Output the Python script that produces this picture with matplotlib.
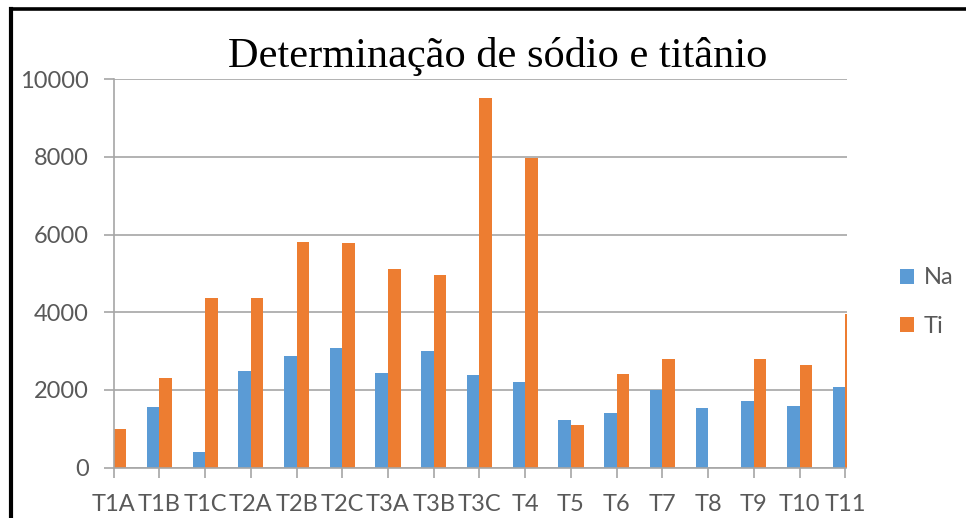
import numpy as np
import matplotlib
matplotlib.use("Agg")
import matplotlib.pyplot as plt
from matplotlib.lines import Line2D

# values
categories = ["T1A", "T1B", "T1C", "T2A", "T2B", "T2C", "T3A", "T3B", "T3C",
              "T4", "T5", "T6", "T7", "T8", "T9", "T10", "T11"]
na = [0, 1550, 400, 2480, 2875, 3080, 2445, 3005, 2380,
      2215, 1220, 1415, 2005, 1545, 1715, 1590, 2085]
ti = [990, 2310, 4360, 4360, 5820, 5775, 5125, 4950, 9510,
      7965, 1090, 2410, 2805, 0, 2805, 2645, 3960]
yticks = [0, 2000, 4000, 6000, 8000, 10000]

NA_C, TI_C = "#5B9BD5", "#ED7D31"
TXT = "#595959"
GRID = "#A6A6A6"

plt.rcParams.update({"font.family": ["Lato", "DejaVu Sans"]})

W, H = 966, 518
fig = plt.figure(figsize=(W / 100, H / 100), dpi=100)

x0, x1 = 113.7, 846.5
y0, y1 = 467.7, 79.2
ax = fig.add_axes([x0 / W, 1 - y0 / H, (x1 - x0) / W, (y0 - y1) / H])

x = np.arange(len(categories))
w = 0.276
ax.bar(x - w, na, width=w, align="edge", color=NA_C, label="Na", zorder=2)
ax.bar(x, ti, width=w, align="edge", color=TI_C, label="Ti", zorder=2)

# "on tick marks" axis: first/last categories sit on the plot edges
ax.set_xlim(0, (len(categories) - 1) + (x1 - 845.3) / 45.72)
ax.set_ylim(0, 10000)
ax.set_yticks(yticks)
ax.set_xticks(x)
ax.set_xticklabels(categories)
ax.yaxis.grid(True, color=GRID, lw=1.2, zorder=0)
ax.set_axisbelow(True)

for s in ["top", "right"]:
    ax.spines[s].set_visible(False)
for s in ["left", "bottom"]:
    ax.spines[s].set_color(GRID)
    ax.spines[s].set_linewidth(1.2)
ax.tick_params(axis="both", colors=GRID, length=7, width=1.2, direction="out",
               labelcolor=TXT, labelsize=17)
ax.tick_params(axis="y", pad=11)
ax.tick_params(axis="x", pad=12)

fig.text(498 / W, 1 - 56 / H, "Determinação de sódio e titânio",
         family="Liberation Serif", fontsize=30.5, color="black",
         ha="center", va="center")

ax.legend(loc="center left", bbox_to_anchor=(900 / W, 1 - 302 / H),
          bbox_transform=fig.transFigure, frameon=False, fontsize=17,
          handlelength=0.6, handleheight=0.6, handletextpad=0.4,
          labelspacing=1.15, borderpad=0, borderaxespad=0, labelcolor=TXT)

# black frame visible on top and left of the screenshot
fig.add_artist(Line2D([10.5 / W, 1], [1 - 9 / H, 1 - 9 / H], color="black",
                      lw=2.6, transform=fig.transFigure))
fig.add_artist(Line2D([10.5 / W, 10.5 / W], [0, 1 - 9 / H], color="black",
                      lw=3.0, transform=fig.transFigure))

fig.savefig("out.png", dpi=100)
